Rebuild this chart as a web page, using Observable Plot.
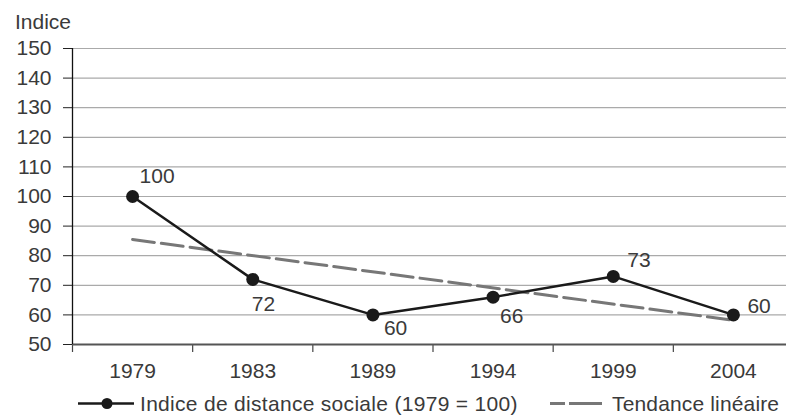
<!DOCTYPE html>
<html>
<head>
<meta charset="utf-8">
<script src="https://cdn.jsdelivr.net/npm/d3@7"></script>
<script src="https://cdn.jsdelivr.net/npm/@observablehq/plot@0.6"></script>
<style>
  html, body { margin: 0; padding: 0; background: #fff; }
  #wrap { position: relative; width: 786px; height: 415px; overflow: hidden; font-family: "Liberation Sans", Arial, sans-serif; color: #3a3a3a; }
  #wrap svg.plot { position: absolute; left: 0; top: 0; }
  .title { position: absolute; left: 15px; top: 11px; font-size: 21px; line-height: 21px; }
  .leg { position: absolute; top: 393px; height: 21px; display: flex; align-items: center; font-size: 21px; line-height: 21px; white-space: nowrap; }
</style>
</head>
<body>
<div id="wrap">
  <div class="title">Indice</div>
  <div class="leg" style="left:78px">
    <svg width="56" height="21" style="margin-right:6px"><line x1="0" x2="56" y1="10.5" y2="10.5" stroke="#1a1a1a" stroke-width="2.5"/><circle cx="29" cy="10.5" r="5.5" fill="#1a1a1a"/></svg>
    <span id="leg1" style="letter-spacing:0.3px"></span>
  </div>
  <div class="leg" style="left:550px">
    <svg width="52" height="21" style="margin-right:10px"><line x1="0" x2="52" y1="10.5" y2="10.5" stroke="#777" stroke-width="3" stroke-dasharray="15,4,33"/></svg>
    <span id="leg2" style="letter-spacing:0.15px"></span>
  </div>
</div>
<script>
const years = ["1979", "1983", "1989", "1994", "1999", "2004"];
const values = [100, 72, 60, 66, 73, 60];
const yTicks = [50, 60, 70, 80, 90, 100, 110, 120, 130, 140, 150];
const seriesName = "Indice de distance sociale (1979 = 100)";
const trendName = "Tendance linéaire";

const labelOffsets = [[7, -20], [-1, 25], [11, 13], [7, 19], [14, -16], [14, -9]];

const data = years.map((year, i) => ({i, year, value: values[i]}));
const idx = years.map((_, i) => i);
const bounds = years.map((_, i) => i - 0.5);

document.getElementById("leg1").textContent = seriesName;
document.getElementById("leg2").textContent = trendName;

const labelMarks = data.map((d, k) =>
  Plot.text([d], {
    x: "i", y: "value", text: dd => String(dd.value),
    textAnchor: "start", dx: labelOffsets[k][0], dy: labelOffsets[k][1],
    fontSize: 21, fill: "#3a3a3a"
  })
);

const chart = Plot.plot({
  width: 786,
  height: 385,
  marginTop: 48,
  marginBottom: 41,
  marginLeft: 72,
  marginRight: 0,
  style: {fontFamily: "Liberation Sans, Arial, sans-serif", color: "#3a3a3a", background: "transparent", overflow: "visible"},
  x: {type: "linear", domain: [-0.5, 5.5], range: [72, 793]},
  y: {domain: [50, 150]},
  marks: [
    Plot.gridY(yTicks, {stroke: "#aaa", strokeOpacity: 1, strokeWidth: 1.2}),
    Plot.axisY(yTicks, {tickSize: 9, tickPadding: 12, fontSize: 21, stroke: "#222", fill: "#3a3a3a", label: null}),
    Plot.axisX(idx, {tickSize: 0, tickPadding: 19, fontSize: 21, tickFormat: i => years[i], fill: "#3a3a3a", label: null}),
    Plot.axisX(bounds, {tickSize: 8, tickFormat: () => "", stroke: "#444", strokeWidth: 1.2, label: null}),
    Plot.ruleY([50], {stroke: "#555", strokeWidth: 2}),
    Plot.ruleX([-0.5], {stroke: "#111", strokeWidth: 1.3}),
    Plot.linearRegressionY(data, {x: "i", y: "value", ci: 0, stroke: "#777", strokeWidth: 3, strokeDasharray: "22,7"}),
    Plot.line(data, {x: "i", y: "value", stroke: "#1a1a1a", strokeWidth: 2.5}),
    Plot.dot(data, {x: "i", y: "value", r: 6.5, fill: "#1a1a1a"}),
    ...labelMarks
  ]
});
chart.classList.add("plot");
document.getElementById("wrap").appendChild(chart);
</script>
</body>
</html>
